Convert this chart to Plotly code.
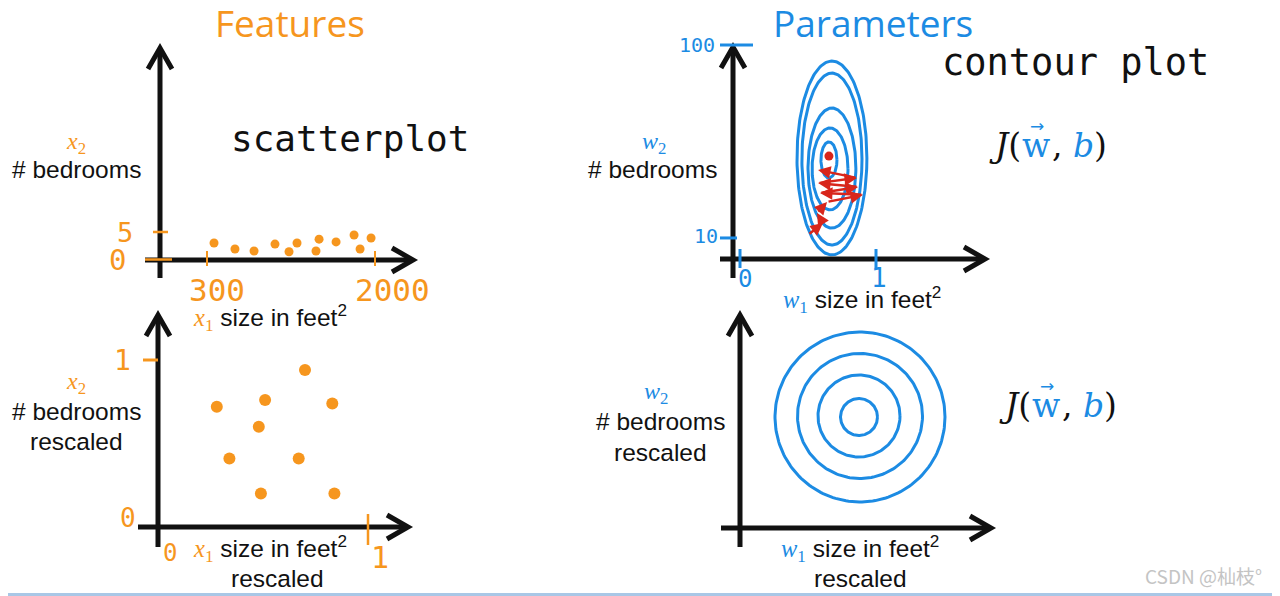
import numpy as np
import plotly.graph_objects as go

W, H = 1280, 596
OFF = 8  # default page margin of the html body

# ---------------- data ----------------
# Features, raw scale (size in feet^2, # bedrooms)
raw_size = [371, 583, 776, 988, 1130, 1211, 1403, 1434, 1606, 1788, 1849, 1960]
raw_bedrooms = [3.0, 1.9, 1.55, 2.8, 1.4, 3.0, 1.55, 3.7, 3.2, 4.45, 1.9, 3.9]
raw_x_ticks = [300, 2000]
raw_y_ticks = [0, 5]

# Features, rescaled
scaled_size = [0.70, 0.28, 0.51, 0.83, 0.48, 0.34, 0.67, 0.49, 0.84]
scaled_bedrooms = [0.94, 0.72, 0.76, 0.74, 0.60, 0.41, 0.41, 0.20, 0.20]
scaled_ticks = [0, 1]

# Parameters, raw features: contour ellipses of J(w,b)
ell_cx = [0.676, 0.676, 0.676, 0.662, 0.654]
ell_cy = [47.3, 46.8, 42.6, 42.2, 46.4]
ell_rx = [0.257, 0.221, 0.176, 0.132, 0.059]
ell_ry = [45.2, 40.1, 28.0, 19.1, 8.4]
w1_ticks = [0, 1]
w2_ticks = [10, 100]
# gradient descent path
gd_w1 = [0.500, 0.610, 0.566, 0.640, 0.904, 0.588, 0.868, 0.574, 0.860, 0.574]
gd_w2 = [11.4, 17.0, 21.6, 26.8, 30.1, 31.0, 33.8, 35.6, 38.0, 41.7]
min_w1 = [0.654]
min_w2 = [48.2]

# Parameters, rescaled features: circular contours
circ_cx = [1.20, 1.20, 1.19, 1.19]
circ_cy = [1.11, 1.12, 1.12, 1.11]
circ_r = [0.85, 0.625, 0.41, 0.185]

# ---------------- style ----------------
ORANGE = "#F6961E"
BLUE = "#1C8BE3"
RED = "#D8261B"
BLACK = "#111111"
SANS = "Liberation Sans, Arial, sans-serif"
HAND = "DejaVu Sans Mono, monospace"
SERIF = "Liberation Serif, serif"
TITLE = "Open Sans, sans-serif"


def calib(pa, va, pb, vb, p0, p1):
    s = (vb - va) / (pb - pa)
    return [va + (p0 - pa) * s, va + (p1 - pa) * s]


# panel: x pixel domain, y pixel domain, x calibration, y calibration (page pixels)
panels = {
    "": dict(xd=(100, 460), yd=(30, 300), xc=(207, 300, 375, 2000), yc=(259.5, 0, 232, 5)),
    "2": dict(xd=(690, 1000), yd=(30, 300), xc=(740, 0, 876, 1), yc=(259.4, 0, 45, 100)),
    "3": dict(xd=(100, 460), yd=(300, 570), xc=(158, 0, 368, 1), yc=(527, 0, 360, 1)),
    "4": dict(xd=(690, 1000), yd=(300, 570), xc=(740, 0, 840, 1), yc=(528, 0, 428, 1)),
}

layout_axes = {}
for k, p in panels.items():
    x0, x1 = p["xd"]
    t, b = p["yd"]
    layout_axes["xaxis" + k] = dict(domain=[(x0 - OFF) / W, (x1 - OFF) / W], range=calib(*p["xc"], x0, x1),
                                    visible=False, anchor="y" + k, fixedrange=True)
    layout_axes["yaxis" + k] = dict(domain=[1 - (b - OFF) / H, 1 - (t - OFF) / H], range=calib(*p["yc"], b, t),
                                    visible=False, anchor="x" + k, fixedrange=True)
# overlay axis in page pixels
layout_axes["xaxis5"] = dict(domain=[0, 1], range=[OFF, W + OFF], visible=False, anchor="y5", fixedrange=True)
layout_axes["yaxis5"] = dict(domain=[0, 1], range=[H + OFF, OFF], visible=False, anchor="x5", fixedrange=True)

fig = go.Figure()

fig.add_trace(go.Scatter(x=raw_size, y=raw_bedrooms, mode="markers", xaxis="x", yaxis="y",
                         marker=dict(size=9, color=ORANGE), hoverinfo="skip"))
fig.add_trace(go.Scatter(x=scaled_size, y=scaled_bedrooms, mode="markers", xaxis="x3", yaxis="y3",
                         marker=dict(size=12, color=ORANGE), hoverinfo="skip"))

t = np.linspace(0, 2 * np.pi, 200)
for cx, cy, rx, ry in zip(ell_cx, ell_cy, ell_rx, ell_ry):
    fig.add_trace(go.Scatter(x=cx + rx * np.cos(t), y=cy + ry * np.sin(t), mode="lines",
                             xaxis="x2", yaxis="y2", line=dict(color=BLUE, width=3), hoverinfo="skip"))
for cx, cy, r in zip(circ_cx, circ_cy, circ_r):
    fig.add_trace(go.Scatter(x=cx + r * np.cos(t), y=cy + r * np.sin(t), mode="lines",
                             xaxis="x4", yaxis="y4", line=dict(color=BLUE, width=3), hoverinfo="skip"))

fig.add_trace(go.Scatter(x=min_w1, y=min_w2, mode="markers", xaxis="x2", yaxis="y2",
                         marker=dict(size=9, color=RED, symbol="circle"), hoverinfo="skip"))

annotations = []
for i in range(len(gd_w1) - 1):
    annotations.append(dict(x=gd_w1[i + 1], y=gd_w2[i + 1], ax=gd_w1[i], ay=gd_w2[i],
                            xref="x2", yref="y2", axref="x2", ayref="y2", text="",
                            showarrow=True, arrowhead=2, arrowsize=1.0, arrowwidth=2.5,
                            arrowcolor=RED, standoff=0, startstandoff=0))

shapes = []


def line(x0, y0, x1, y1, color=BLACK, width=5, xref="x5", yref="y5"):
    shapes.append(dict(type="line", x0=x0, y0=y0, x1=x1, y1=y1, xref=xref, yref=yref,
                       line=dict(color=color, width=width)))


def path(d, color=BLACK, width=5):
    shapes.append(dict(type="path", path=d, xref="x5", yref="y5",
                       line=dict(color=color, width=width)))


axes_px = [
    ((160, 278, 48), (260, 145, 413)),
    ((733, 278, 47), (259, 720, 985)),
    ((158, 547, 315), (527, 138, 408)),
    ((740, 547, 315), (528, 721, 991)),
]
for (vx, vb, vt), (hy, hl, hr) in axes_px:
    line(vx, vb, vx, vt + 2)
    line(hl, hy, hr - 2, hy)
    path(f"M {vx-12},{vt+21} L {vx},{vt} L {vx+12},{vt+21}")
    path(f"M {hr-21},{hy-12} L {hr},{hy} L {hr-21},{hy+12}")

# tick marks
line(153, raw_y_ticks[1], 168, raw_y_ticks[1], color=ORANGE, width=2.5, yref="y")
line(145, raw_y_ticks[0], 172, raw_y_ticks[0], color=ORANGE, width=2.5, yref="y")
for v in raw_x_ticks:
    line(v, 251, v, 266, color=ORANGE, width=2, xref="x")
line(143, scaled_ticks[1], 158, scaled_ticks[1], color=ORANGE, width=3, yref="y3")
line(scaled_ticks[1], 514, scaled_ticks[1], 545, color=ORANGE, width=2.5, xref="x3")
line(720, w2_ticks[1], 753, w2_ticks[1], color=BLUE, width=3, yref="y2")
line(720, w2_ticks[0], 737, w2_ticks[0], color=BLUE, width=3, yref="y2")
for v in w1_ticks:
    line(v, 249, v, 268, color=BLUE, width=3, xref="x2")

# bottom border line
line(0, 594.5, W + OFF, 594.5, color="#A9C7E6", width=3)


def ann(text, x, y, size, color=BLACK, family=SANS, xref="x5", yref="y5", weight=None, **kw):
    font = dict(size=size, color=color, family=family)
    if weight:
        font["weight"] = weight
    d = dict(text=text, x=x, y=y, xref=xref, yref=yref, showarrow=False,
             font=font, xanchor="center", yanchor="middle")
    d.update(kw)
    annotations.append(d)


ann("Features", 290, 22, 37, ORANGE, TITLE, weight=500)
ann("Parameters", 873, 22, 37, BLUE, TITLE, weight=500)
ann("scatterplot", 350, 138, 36, BLACK, HAND)
ann("contour plot", 1075, 62, 37, BLACK, HAND)

# tick labels
ann(str(raw_y_ticks[1]), 125, raw_y_ticks[1], 27, ORANGE, HAND, yref="y")
ann(str(raw_y_ticks[0]), 117, raw_y_ticks[0], 29, ORANGE, HAND, yref="y")
ann(str(raw_x_ticks[0]), raw_x_ticks[0], 290, 31, ORANGE, HAND, xref="x", xshift=10)
ann(str(raw_x_ticks[1]), raw_x_ticks[1], 290, 31, ORANGE, HAND, xref="x", xshift=17)
ann(str(scaled_ticks[1]), 122, scaled_ticks[1], 28, ORANGE, HAND, yref="y3")
ann(str(scaled_ticks[0]), 128, scaled_ticks[0], 26, ORANGE, HAND, yref="y3", yshift=9)
ann(str(scaled_ticks[0]), scaled_ticks[0], 553, 24, ORANGE, HAND, xref="x3", xshift=12)
ann(str(scaled_ticks[1]), scaled_ticks[1], 557, 30, ORANGE, HAND, xref="x3", xshift=12)
ann(str(w2_ticks[1]), 697, w2_ticks[1], 20, BLUE, HAND, yref="y2")
ann(str(w2_ticks[0]), 706, w2_ticks[0], 20, BLUE, HAND, yref="y2", yshift=2)
ann(str(w1_ticks[0]), w1_ticks[0], 279, 24, BLUE, HAND, xref="x2", xshift=5)
ann(str(w1_ticks[1]), w1_ticks[1], 278, 26, BLUE, HAND, xref="x2", xshift=3)

xo = f"<span style='color:{ORANGE};font-family:Liberation Serif'><i>x</i>"
wb = f"<span style='color:{BLUE};font-family:Liberation Serif'><i>w</i>"
ann(xo + "<sub>2</sub></span>", 76, 143, 24)
ann("# bedrooms", 76, 169, 24.5)
ann(xo + "<sub>1</sub></span> size in feet<sup>2</sup>", 270, 317, 24.5)
ann(xo + "<sub>2</sub></span>", 76, 383, 24)
ann("# bedrooms", 76, 411, 24.5)
ann("rescaled", 76, 441, 24.5)
ann(xo + "<sub>1</sub></span> size in feet<sup>2</sup>", 270, 548, 24.5)
ann("rescaled", 277, 578, 24.5)
ann(wb + "<sub>2</sub></span>", 654, 143, 24)
ann("# bedrooms", 652, 169, 24.5)
ann(wb + "<sub>1</sub></span> size in feet<sup>2</sup>", 862, 299, 24.5)
ann(wb + "<sub>2</sub></span>", 656, 393, 24)
ann("# bedrooms", 660, 421, 24.5)
ann("rescaled", 660, 452, 24.5)
ann(wb + "<sub>1</sub></span> size in feet<sup>2</sup>", 860, 548, 24.5)
ann("rescaled", 860, 578, 24.5)

# J(w, b) built from pieces
JF = "DejaVu Serif, serif"
for dx, dy in [(0, 0), (10, 260)]:
    ann("<i>J</i>(", 1023 + dx, 145 + dy, 33, BLACK, JF, xanchor="right")
    ann("w", 1036 + dx, 145 + dy, 33, BLUE, JF)
    ann("\u2192", 1037 + dx, 126 + dy, 17, BLUE, "DejaVu Sans, sans-serif")
    ann(f", <span style='color:{BLUE}'><i>b</i></span>)", 1050 + dx, 145 + dy, 33, BLACK, JF,
        xanchor="left")

ann("CSDN @杣枝°", 1203, 575, 19, "#C4C4C4", "Noto Sans CJK SC, sans-serif")

fig.update_layout(
    width=W, height=H, margin=dict(l=0, r=0, t=0, b=0),
    paper_bgcolor="white", plot_bgcolor="rgba(0,0,0,0)",
    showlegend=False, annotations=annotations, shapes=shapes, **layout_axes,
)
fig.write_html("out.html", config={"displayModeBar": False})
